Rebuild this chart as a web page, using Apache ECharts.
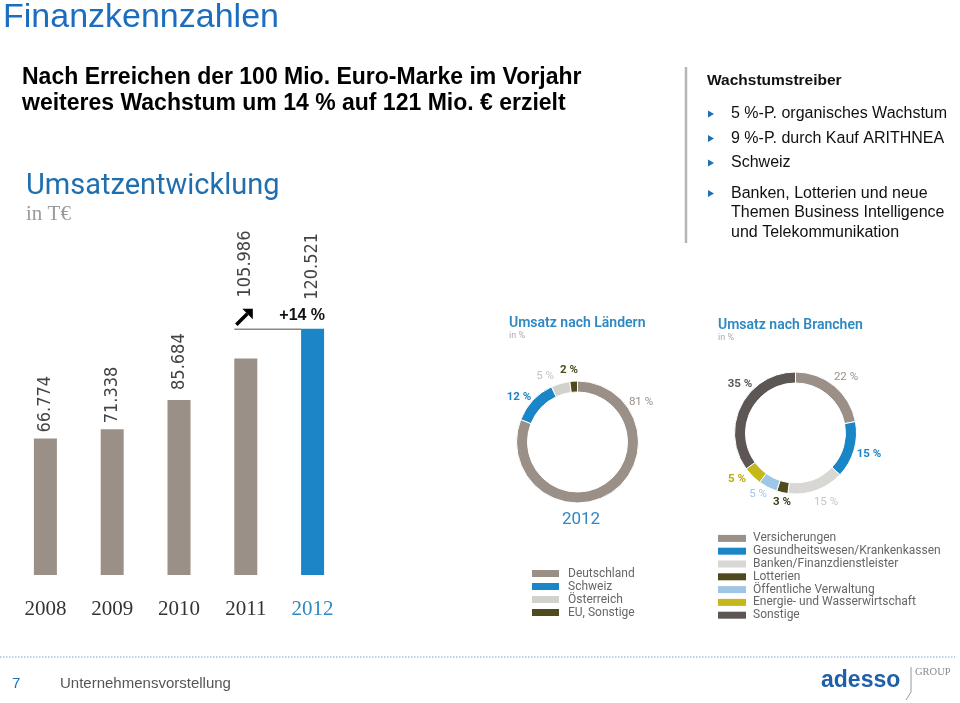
<!DOCTYPE html>
<html>
<head>
<meta charset="utf-8">
<script src="https://cdn.jsdelivr.net/npm/echarts@6/dist/echarts.min.js"></script>
<style>html,body{margin:0;padding:0;background:#fff;}#c{width:960px;height:703px;}</style>
</head>
<body>
<div id="c"></div>
<script>
// ---- data ----
const years = ['2008', '2009', '2010', '2011', '2012'];
const revenue = [66774, 71338, 85684, 105986, 120521];   // in T€
const growthLabel = '+14 %';
const countryNames = ['Deutschland', 'Schweiz', 'Österreich', 'EU, Sonstige'];
const countryShares = [81, 12, 5, 2];
const industryNames = ['Versicherungen', 'Gesundheitswesen/Krankenkassen', 'Banken/Finanzdienstleister',
  'Lotterien', 'Öffentliche Verwaltung', 'Energie- und Wasserwirtschaft', 'Sonstige'];
const industryShares = [22, 15, 15, 3, 5, 5, 35];
const bulletTexts = [
  ['5 %-P. organisches Wachstum'],
  ['9 %-P. durch Kauf ARITHNEA'],
  ['Schweiz'],
  ['Banken, Lotterien und neue', 'Themen Business Intelligence', 'und Telekommunikation']
];

// ---- styles ----
const SANS = '"Liberation Sans", Arial, sans-serif';
const NARROW = '"Liberation Sans Narrow", "DejaVu Sans Condensed", "Liberation Sans", Arial, sans-serif';
const DIN = 'Roboto, "Open Sans", sans-serif';
const GREY = '#9b9088', BLUE = '#1a86c8', TITLEBLUE = '#1a6dbf', HEADBLUE = '#2e88c2';
const barColors = [GREY, GREY, GREY, GREY, BLUE];
const barLabelDist = [6, 6, 10, 61, 29];
const yearColors = ['#333', '#333', '#333', '#333', HEADBLUE];
const countryColors = [GREY, BLUE, '#d3d1cc', '#4f4b1f'];
const countryLabelColors = [GREY, BLUE, '#c4c2be', '#4f4b1f'];
const countryLabelWeights = ['normal', 'bold', 'normal', 'bold'];
const countryLabelPos = [[641, 402], [519, 397], [545, 376], [569, 370]];
const industryColors = [GREY, BLUE, '#d9d7d3', '#4f4b1f', '#a0c6e6', '#c4b81a', '#5c5754'];
const industryLabelColors = [GREY, BLUE, '#c8c6c2', '#3e3a1a', '#a0c6e6', '#b8ab10', '#5c5754'];
const industryLabelWeights = ['normal', 'bold', 'normal', 'bold', 'normal', 'bold', 'bold'];
const industryLabelPos = [[846, 377], [869, 454], [826, 502], [782, 502], [758, 494], [737, 479], [740, 384]];

function fmtDE(v) { return String(v).replace(/\B(?=(\d{3})+(?!\d))/g, '.'); }

const chart = echarts.init(document.getElementById('c'), null, {renderer: 'canvas'});

function pieSeries(names, values, colors, lblColors, lblWeights, lblPos, center) {
  return {
    type: 'pie', center: center, radius: [50, 61], startAngle: 90, clockwise: true,
    avoidLabelOverlap: false, silent: true,
    itemStyle: {borderColor: '#fff', borderWidth: 1},
    label: {show: true, position: 'outside', formatter: '{c} %', fontSize: 11.5, fontFamily: DIN},
    labelLine: {show: false},
    labelLayout: function (p) {
      const pos = lblPos[p.dataIndex];
      return {x: pos[0], y: pos[1], align: 'center', verticalAlign: 'middle'};
    },
    data: names.map((n, i) => ({
      name: n, value: values[i], itemStyle: {color: colors[i]},
      label: {color: lblColors[i], fontWeight: lblWeights[i]}
    }))
  };
}

chart.setOption({
  animation: false,
  grid: [{left: 12, width: 334, top: 289, height: 286}],
  xAxis: [{
    type: 'category', data: years.map((y, i) => ({value: y, textStyle: {color: yearColors[i]}})),
    axisLine: {show: false}, axisTick: {show: false},
    axisLabel: {margin: 24, fontSize: 21, fontFamily: '"Liberation Serif", "DejaVu Serif", serif'}
  }],
  yAxis: [{type: 'value', min: 0, max: 140000, show: false, splitLine: {show: false}}],
  legend: [
    {
      data: countryNames, orient: 'vertical', left: 527, top: 562, icon: 'rect',
      itemWidth: 27, itemHeight: 7, itemGap: 0, selectedMode: false,
      itemStyle: {borderWidth: 0},
      textStyle: {fontSize: 12, fontFamily: DIN, color: '#666', lineHeight: 13, padding: [0, 0, 0, 4]}
    },
    {
      data: industryNames, orient: 'vertical', left: 713, top: 527, icon: 'rect',
      itemWidth: 28, itemHeight: 7, itemGap: 0, selectedMode: false,
      itemStyle: {borderWidth: 0},
      textStyle: {fontSize: 12, fontFamily: DIN, color: '#666', lineHeight: 12.8, padding: [0, 0, 0, 2]}
    }
  ],
  series: [
    {
      type: 'bar', barWidth: 23, silent: true,
      data: revenue.map((v, i) => ({
        value: v, itemStyle: {color: barColors[i]},
        label: {distance: barLabelDist[i]}
      })),
      label: {
        show: true, position: 'top', rotate: 90, align: 'left', verticalAlign: 'middle',
        formatter: p => fmtDE(p.value), fontSize: 18, fontFamily: NARROW, color: '#444'
      }
    },
    pieSeries(countryNames, countryShares, countryColors, countryLabelColors, countryLabelWeights, countryLabelPos, [577.5, 442]),
    pieSeries(industryNames, industryShares, industryColors, industryLabelColors, industryLabelWeights, industryLabelPos, [795.5, 433])
  ]
});

// ---- decorations / text ----
const g = [];
function txt(x, y, text, font, fill, align) {
  g.push({type: 'text', x: x, y: y, silent: true,
    style: {text: text, font: font, fill: fill, align: align || 'left', textAlign: align || 'left', verticalAlign: 'middle', textVerticalAlign: 'middle'}});
}
txt(3, 18, 'Finanzkennzahlen', '34px ' + SANS, TITLEBLUE);
txt(22, 78, 'Nach Erreichen der 100 Mio. Euro-Marke im Vorjahr', 'bold 23px ' + SANS, '#000');
txt(22, 103.5, 'weiteres Wachstum um 14 % auf 121 Mio. € erzielt', 'bold 23px ' + SANS, '#000');

// right box
g.push({type: 'line', silent: true, shape: {x1: 686, y1: 67, x2: 686, y2: 243}, style: {stroke: '#b5b5b5', lineWidth: 2.5}});
txt(707, 81, 'Wachstumstreiber', 'bold 15.5px ' + SANS, '#111');
const bulletRowY = [[114], [138.5], [163], [193.5, 213, 232.5]];
bulletTexts.forEach((lines, i) => {
  const y0 = bulletRowY[i][0];
  g.push({type: 'polygon', silent: true, shape: {points: [[708, y0 - 3.5], [714, y0], [708, y0 + 3.5]]}, style: {fill: '#1f6fb5'}});
  lines.forEach((l, j) => txt(731, bulletRowY[i][j], l, '16px ' + SANS, '#111'));
});

// bar chart headings
txt(26, 187, 'Umsatzentwicklung', '29px ' + DIN, '#1f6fb0');
txt(26, 214, 'in T€', '21px "Liberation Serif", serif', '#9a9a9a');

// pie headings
txt(509, 323, 'Umsatz nach Ländern', '600 14px ' + DIN, HEADBLUE);
txt(509, 336, 'in %', '9px ' + DIN, '#aaa');
txt(718, 325, 'Umsatz nach Branchen', '600 14px ' + DIN, HEADBLUE);
txt(718, 338, 'in %', '9px ' + DIN, '#aaa');
txt(581, 520, '2012', '17px ' + DIN, HEADBLUE, 'center');

// growth annotation, positioned through the axes
const p11 = chart.convertToPixel({xAxisIndex: 0, yAxisIndex: 0}, [years[3], revenue[4]]);
const p12 = chart.convertToPixel({xAxisIndex: 0, yAxisIndex: 0}, [years[4], revenue[4]]);
const hw = 11.5;
g.push({type: 'line', silent: true, shape: {x1: p11[0] - hw, y1: p12[1] + 0.5, x2: p12[0] - hw, y2: p12[1] + 0.5}, style: {stroke: '#8a8a8a', lineWidth: 1.5}});
const ax = p11[0] - hw + 2, ay = p12[1] - 4;
g.push({type: 'line', silent: true, shape: {x1: ax, y1: ay, x2: ax + 11, y2: ay - 11}, style: {stroke: '#000', lineWidth: 3.5}});
g.push({type: 'polygon', silent: true, shape: {points: [[ax + 6, ay - 16], [ax + 16.5, ay - 16], [ax + 16.5, ay - 5.5]]}, style: {fill: '#000'}});
txt(p12[0] + hw + 1, p12[1] - 13, growthLabel, 'bold 16px ' + SANS, '#111', 'right');

// footer
g.push({type: 'line', silent: true, shape: {x1: 0, y1: 657, x2: 955, y2: 657}, style: {stroke: '#7aa6d6', lineWidth: 1, lineDash: [1.5, 1.5]}});
txt(12, 684, '7', '15px ' + SANS, TITLEBLUE);
txt(60, 684, 'Unternehmensvorstellung', '15px ' + SANS, '#555');
txt(821, 681, 'adesso', 'bold 23px ' + SANS, '#1d5fa8');
g.push({type: 'polyline', silent: true, shape: {points: [[911, 667], [911, 692], [906, 700]]}, style: {stroke: '#9a9a9a', lineWidth: 1, fill: null}});
txt(915, 672, 'GROUP', '10.5px "Liberation Serif", serif', '#8a8a8a');

chart.setOption({graphic: g});
</script>
</body>
</html>
